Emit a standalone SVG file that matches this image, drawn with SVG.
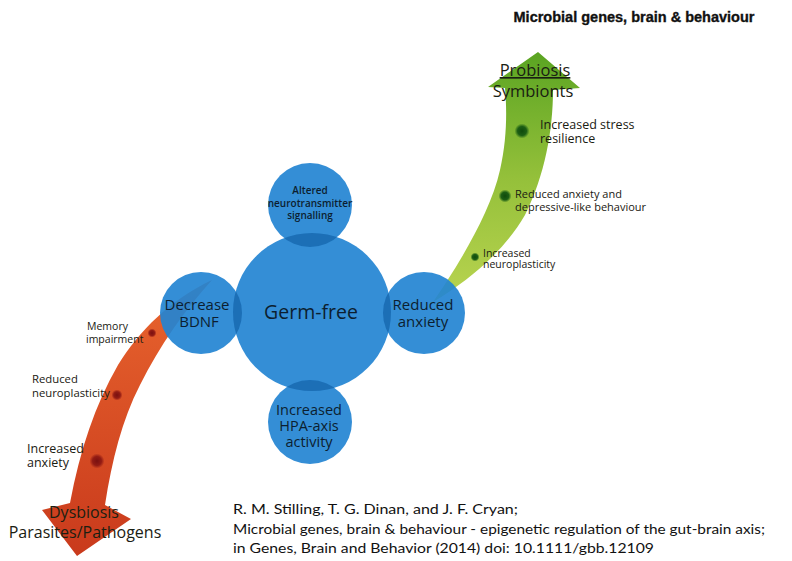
<svg xmlns="http://www.w3.org/2000/svg" width="792" height="561" viewBox="0 0 792 561">
<defs>
<style>
.lbl{font-family:"Open Sans","DejaVu Sans",sans-serif;fill:#1a2012;}
.node{fill:#2384d2;fill-opacity:0.92;}
.ntx{font-family:"Open Sans","DejaVu Sans",sans-serif;fill:#0c1e30;text-anchor:middle;}
.cite{font-family:Lato,"Liberation Sans",sans-serif;font-size:14px;fill:#111;}
</style>
<linearGradient id="gGreen" x1="0" y1="1" x2="0" y2="0">
<stop offset="0" stop-color="#b9d450"/>
<stop offset="0.5" stop-color="#94c03a"/>
<stop offset="1" stop-color="#5aa422"/>
</linearGradient>
<linearGradient id="gRed" x1="0" y1="0" x2="0" y2="1">
<stop offset="0" stop-color="#e8642e"/>
<stop offset="1" stop-color="#c93a1c"/>
</linearGradient>
<radialGradient id="dG"><stop offset="0" stop-color="#0f4a0c"/><stop offset="0.6" stop-color="#1c5e14"/><stop offset="1" stop-color="#1c5e14" stop-opacity="0"/></radialGradient>
<radialGradient id="dR"><stop offset="0" stop-color="#7a1010"/><stop offset="0.6" stop-color="#931c14"/><stop offset="1" stop-color="#931c14" stop-opacity="0"/></radialGradient>
<clipPath id="clipMain"><circle cx="312" cy="312" r="79"/></clipPath>
</defs>
<rect width="792" height="561" fill="#ffffff"/>

<text x="634" y="22" font-family="Liberation Sans, Arial, sans-serif" font-size="14.5" font-weight="bold" fill="#111" stroke="#111" stroke-width="0.35" text-anchor="middle">Microbial genes, brain &amp; behaviour</text>

<g id="connectors">
<path id="arrow-probiosis" d="M 433,302 C 455,270 490,215 500,170 C 507,140 507,110 505,88 L 488,87 L 538,52 L 580,88 L 553,90 C 553,130 545,175 525,215 C 505,250 470,280 433,302 Z" fill="url(#gGreen)"/>
<path id="arrow-dysbiosis" d="M 212,280 C 170,300 140,330 118,365 C 95,405 80,450 70,503 L 42,510 L 77,556 L 131,519 L 105,505 C 112,460 122,420 140,385 C 160,345 185,310 212,280 Z" fill="url(#gRed)"/>
<circle cx="522" cy="131" r="7.5" fill="url(#dG)"/>
<circle cx="505" cy="196" r="6.5" fill="url(#dG)"/>
<circle cx="475" cy="257" r="4.5" fill="url(#dG)"/>
<circle cx="152" cy="333" r="4.5" fill="url(#dR)"/>
<circle cx="117" cy="395" r="5.5" fill="url(#dR)"/>
<circle cx="97" cy="461" r="7.5" fill="url(#dR)"/>
</g>

<g id="node-germfree"><circle class="node" cx="312" cy="312" r="79"/></g>
<g id="node-neuro"><circle class="node" cx="310" cy="205" r="42"/></g>
<g id="node-bdnf"><circle class="node" cx="201" cy="313" r="41"/></g>
<g id="node-anxiety"><circle class="node" cx="424" cy="313" r="41"/></g>
<g id="node-hpa"><circle class="node" cx="310" cy="422" r="42"/></g>
<g id="overlaps" clip-path="url(#clipMain)" fill="#062a5c" fill-opacity="0.24">
<circle cx="310" cy="205" r="42"/>
<circle cx="201" cy="313" r="41"/>
<circle cx="424" cy="313" r="41"/>
<circle cx="310" cy="422" r="42"/>
</g>

<g id="node-labels">
<text class="ntx" x="311" y="319" font-size="19.5">Germ-free</text>
<text class="ntx" x="310" y="194" font-size="10" font-weight="600">Altered</text>
<text class="ntx" x="310" y="207" font-size="10" font-weight="600">neurotransmitter</text>
<text class="ntx" x="310" y="219" font-size="10" font-weight="600">signalling</text>
<text class="ntx" x="197" y="310" font-size="15">Decrease</text>
<text class="ntx" x="199" y="327" font-size="15">BDNF</text>
<text class="ntx" x="423" y="310" font-size="15">Reduced</text>
<text class="ntx" x="423" y="327" font-size="15">anxiety</text>
<text class="ntx" x="309" y="415" font-size="14.5">Increased</text>
<text class="ntx" x="309" y="431" font-size="14.5">HPA-axis</text>
<text class="ntx" x="309" y="447" font-size="14.5">activity</text>
</g>

<g id="probiosis-labels">
<text class="lbl" x="535" y="76" font-size="16.5" text-anchor="middle" text-decoration="underline">Probiosis</text>
<text class="lbl" x="533" y="97" font-size="16.5" text-anchor="middle">Symbionts</text>
<text class="lbl" x="540" y="129" font-size="12.5">Increased stress</text>
<text class="lbl" x="540" y="143" font-size="12.5">resilience</text>
<text class="lbl" x="515" y="198" font-size="11">Reduced anxiety and</text>
<text class="lbl" x="515" y="211" font-size="11">depressive-like behaviour</text>
<text class="lbl" x="483" y="257" font-size="10.5">Increased</text>
<text class="lbl" x="483" y="268" font-size="10.5">neuroplasticity</text>
</g>

<g id="dysbiosis-labels">
<text class="lbl" x="87" y="330" font-size="10.5">Memory</text>
<text class="lbl" x="86" y="343" font-size="10.5">impairment</text>
<text class="lbl" x="32" y="383" font-size="11.3">Reduced</text>
<text class="lbl" x="32" y="397" font-size="11.3">neuroplasticity</text>
<text class="lbl" x="27" y="453" font-size="12.5">Increased</text>
<text class="lbl" x="27" y="467" font-size="12.5">anxiety</text>
<text class="lbl" x="84" y="518" font-size="16" text-anchor="middle">Dysbiosis</text>
<text class="lbl" x="85" y="538" font-size="16" text-anchor="middle">Parasites/Pathogens</text>
</g>

<g id="citation">
<text class="cite" x="233" y="514" textLength="285" lengthAdjust="spacingAndGlyphs">R. M. Stilling, T. G. Dinan, and J. F. Cryan;</text>
<text class="cite" x="233" y="534" textLength="532" lengthAdjust="spacingAndGlyphs">Microbial genes, brain &amp; behaviour - epigenetic regulation of the gut-brain axis;</text>
<text class="cite" x="233" y="553" textLength="421" lengthAdjust="spacingAndGlyphs">in Genes, Brain and Behavior (2014) doi: 10.1111/gbb.12109</text>
</g>
</svg>
